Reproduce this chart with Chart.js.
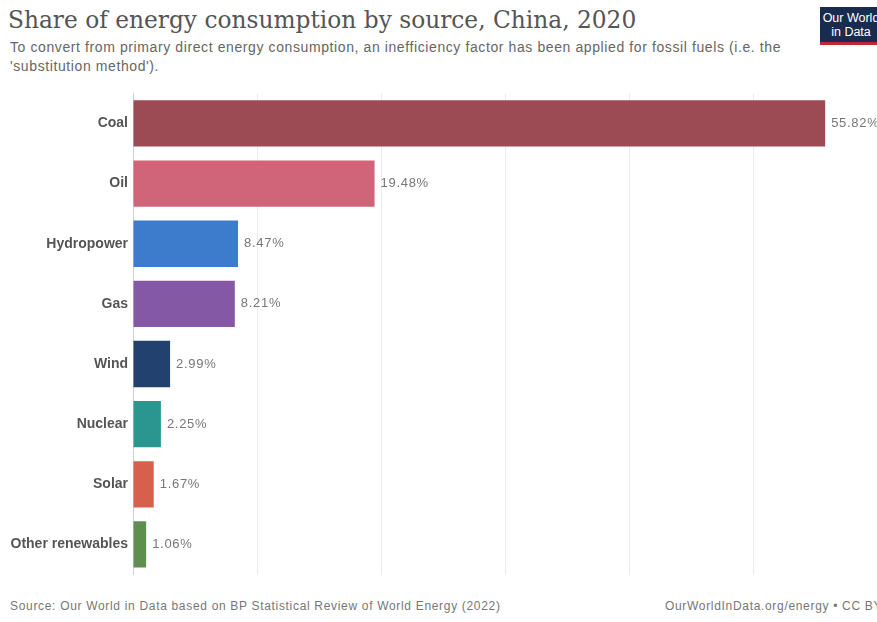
<!DOCTYPE html>
<html>
<head>
<meta charset="utf-8">
<script src="https://cdn.jsdelivr.net/npm/chart.js@4"></script>
<style>
  html, body { margin: 0; padding: 0; background: #fff; }
  body { width: 877px; height: 622px; position: relative; overflow: hidden; font-family: "Liberation Sans", Arial, sans-serif; }
  #title { position: absolute; left: 8px; top: 6px; font-family: "DejaVu Serif", "Liberation Serif", serif; font-size: 23.3px; color: #555; white-space: nowrap; }
  #subtitle { position: absolute; left: 10px; top: 38px; width: 800px; font-size: 14px; letter-spacing: 0.6px; line-height: 19px; color: #666; }
  #logo { position: absolute; left: 820px; top: 7px; width: 62px; height: 38px; background: #1a2b50; border-bottom: 3px solid #c0273a; box-sizing: border-box; color: #fff; font-size: 12.5px; line-height: 14px; text-align: center; padding-top: 4px; white-space: nowrap; }
  #chartbox { position: absolute; left: 0; top: 80px; width: 877px; height: 510px; }
  #source { position: absolute; left: 10px; top: 599px; font-size: 12px; letter-spacing: 0.68px; color: #777; white-space: nowrap; }
  #credit { position: absolute; left: 665px; top: 599px; font-size: 12px; letter-spacing: 0.68px; color: #777; white-space: nowrap; }
</style>
</head>
<body>
<div id="title">Share of energy consumption by source, China, 2020</div>
<div id="subtitle">To convert from primary direct energy consumption, an inefficiency factor has been applied for fossil fuels (i.e. the 'substitution method').</div>
<div id="logo">Our World<br>in Data</div>
<div id="chartbox"><canvas id="chart"></canvas></div>
<div id="source">Source: Our World in Data based on BP Statistical Review of World Energy (2022)</div>
<div id="credit">OurWorldInData.org/energy • CC BY</div>
<script>
// Energy sources, ordered by share
const sources = ["Coal", "Oil", "Hydropower", "Gas", "Wind", "Nuclear", "Solar", "Other renewables"];
// Share of primary energy (%)
const shares = [55.82, 19.48, 8.47, 8.21, 2.99, 2.25, 1.67, 1.06];
// One colour per source
const sourceColors = ["#9c4b55", "#d06478", "#3d7ccc", "#8458a5", "#22416e", "#2b968f", "#d7604d", "#5e8f50"];
// Gridline positions along the value axis (%)
const gridTicks = [0, 10, 20, 30, 40, 50, 60];

// Writes the percentage just past the end of each bar
const valueLabels = {
  id: "valueLabels",
  afterDatasetsDraw(chart) {
    const ctx = chart.ctx;
    const meta = chart.getDatasetMeta(0);
    ctx.save();
    ctx.font = "13px 'Liberation Sans', Arial, sans-serif";
    if ("letterSpacing" in ctx) ctx.letterSpacing = "0.7px";
    ctx.fillStyle = "#777";
    ctx.textAlign = "left";
    ctx.textBaseline = "middle";
    meta.data.forEach((bar, i) => {
      ctx.fillText(shares[i].toFixed(2) + "%", bar.x + 6, bar.y);
    });
    ctx.restore();
  }
};

new Chart(document.getElementById("chart"), {
  type: "bar",
  data: {
    labels: sources,
    datasets: [{
      data: shares,
      backgroundColor: sourceColors,
      barPercentage: 0.77,
      categoryPercentage: 1.0
    }]
  },
  options: {
    indexAxis: "y",
    responsive: true,
    maintainAspectRatio: false,
    animation: false,
    layout: { padding: { top: 4.5, bottom: 15.5, left: 0, right: 0 } },
    plugins: {
      legend: { display: false },
      tooltip: { enabled: false }
    },
    scales: {
      x: {
        min: 0,
        max: 60,
        afterBuildTicks(scale) { scale.ticks = gridTicks.map(v => ({ value: v })); },
        afterFit(scale) { scale.height = 0; },
        ticks: { display: false },
        grid: {
          color: ctx => (ctx.tick && ctx.tick.value > 0 && ctx.tick.value < 60) ? "#ececec" : "rgba(0,0,0,0)",
          drawTicks: false,
          lineWidth: 1
        },
        border: { display: false }
      },
      y: {
        afterFit(scale) { scale.width = 133; },
        ticks: {
          color: "#555",
          padding: 5,
          font: { family: "'Liberation Sans', Arial, sans-serif", size: 14, weight: "bold" }
        },
        grid: { display: false, drawTicks: false },
        border: { display: true, color: "#d0d0d0", width: 1 }
      }
    }
  },
  plugins: [valueLabels]
});
</script>
</body>
</html>
